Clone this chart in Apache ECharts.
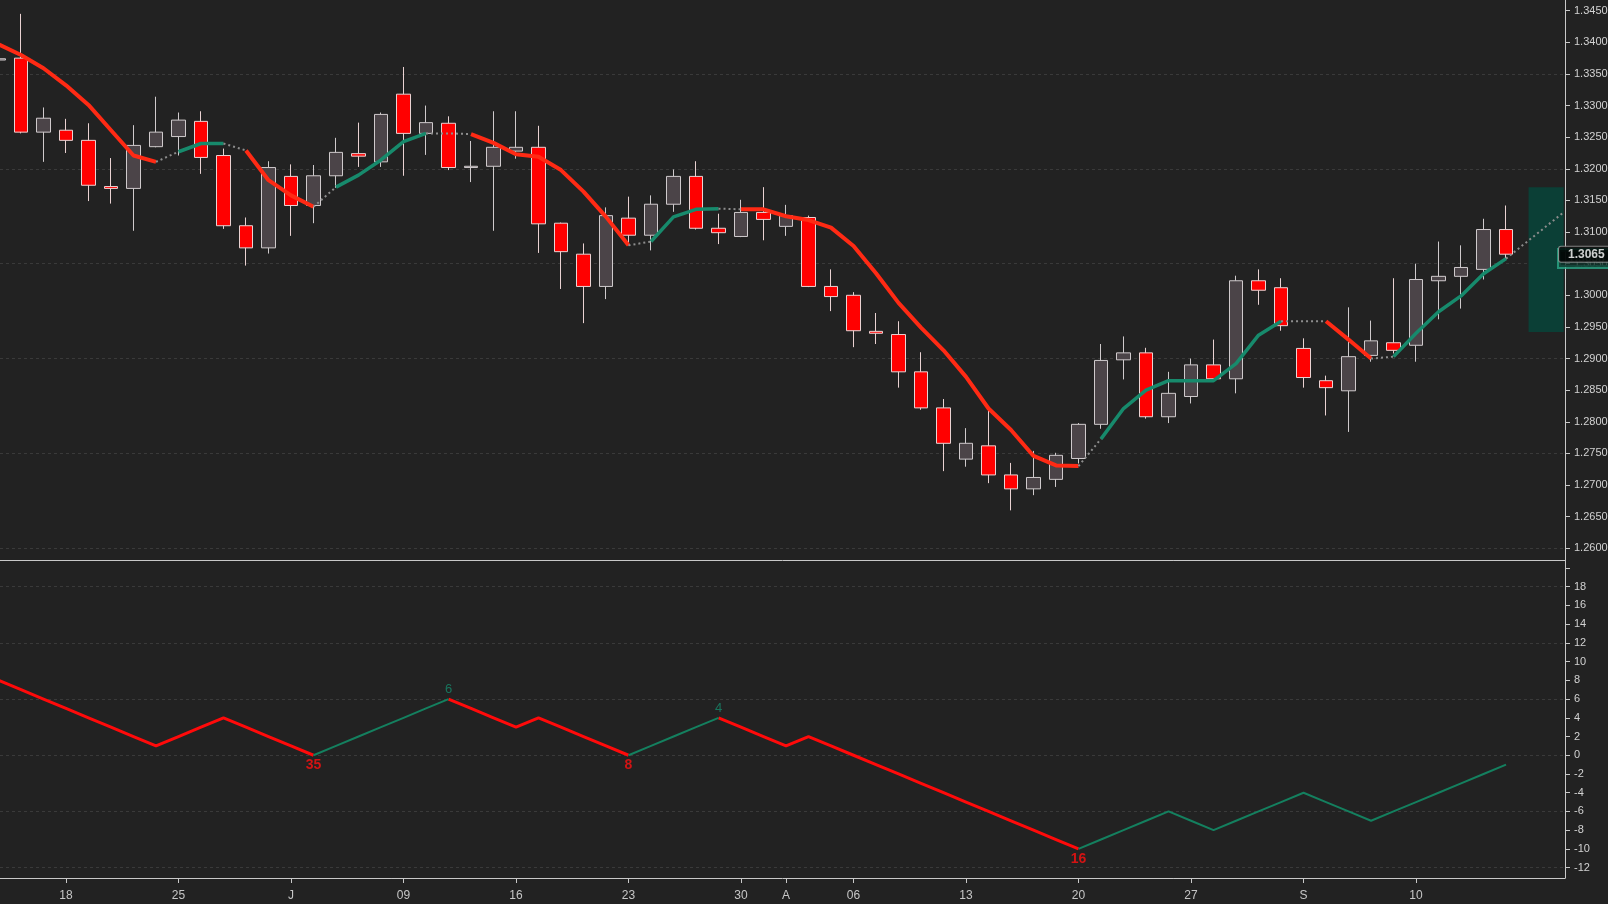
<!DOCTYPE html>
<html lang="en">
<head>
  <meta charset="UTF-8">
  <title>GBPUSD daily</title>
  <script src="https://cdn.jsdelivr.net/npm/echarts@6.0.0/dist/echarts.min.js"></script>
  <style>
    html, body { margin: 0; padding: 0; background: #222222; }
  </style>
</head>
<body>
  <div id="chart" style="width:1608px;height:904px;"></div>

  <script>
    // trading days, Jun 13 -> Sep 14 (index = position on the x axis)
    var dates = ['06-13','06-14','06-15','06-18','06-19','06-20','06-21','06-22','06-25','06-26','06-27','06-28','06-29',
      '07-02','07-03','07-04','07-05','07-06','07-09','07-10','07-11','07-12','07-13','07-16','07-17','07-18','07-19','07-20',
      '07-23','07-24','07-25','07-26','07-27','07-30','07-31','08-01','08-02','08-03','08-06','08-07','08-08','08-09','08-10',
      '08-13','08-14','08-15','08-16','08-17','08-20','08-21','08-22','08-23','08-24','08-27','08-28','08-29','08-30','08-31',
      '09-03','09-04','09-05','09-06','09-07','09-10','09-11','09-12','09-13','09-14'];

    var open  = [1.3372,1.3375,1.3258,1.3261,1.3245,1.3172,1.3169,1.3235,1.3251,1.3275,1.3221,1.3110,1.3075,
      1.3188,1.3142,1.3189,1.3224,1.3211,1.3318,1.3256,1.3272,1.3202,1.3204,1.3228,1.3234,1.3114,1.3065,1.3014,
      1.3122,1.3095,1.3144,1.3188,1.3106,1.3093,1.3131,1.3109,1.3123,1.3014,1.3000,1.2943,1.2938,1.2879,1.2822,
      1.2741,1.2762,1.2716,1.2694,1.2709,1.2742,1.2796,1.2898,1.2909,1.2808,1.2840,1.2890,1.2868,1.3023,1.3012,
      1.2916,1.2865,1.2849,1.2905,1.2925,1.2921,1.3023,1.3030,1.3041,1.3104];
    var high  = [1.3377,1.3445,1.3297,1.3279,1.3272,1.3217,1.3269,1.3314,1.3289,1.3291,1.3232,1.3123,1.3212,
      1.3207,1.3206,1.3249,1.3273,1.3289,1.3361,1.3300,1.3283,1.3244,1.3291,1.3291,1.3268,1.3115,1.3082,1.3139,
      1.3156,1.3158,1.3199,1.3212,1.3129,1.3151,1.3171,1.3143,1.3126,1.3041,1.3005,1.2972,1.2959,1.2910,1.2836,
      1.2790,1.2820,1.2735,1.2754,1.2751,1.2798,1.2923,1.2935,1.2917,1.2879,1.2900,1.2930,1.3031,1.3041,1.3027,
      1.2932,1.2873,1.2981,1.2960,1.3027,1.3050,1.3085,1.3079,1.3121,1.3142];
    var low   = [1.3369,1.3256,1.3211,1.3225,1.3149,1.3145,1.3102,1.3234,1.3221,1.3192,1.3105,1.3047,1.3066,
      1.3094,1.3114,1.3170,1.3203,1.3203,1.3189,1.3222,1.3198,1.3179,1.3102,1.3216,1.3067,1.3010,1.2956,1.2994,
      1.3079,1.3071,1.3132,1.3104,1.3081,1.3092,1.3087,1.3094,1.3013,1.2975,1.2918,1.2923,1.2854,1.2819,1.2722,
      1.2729,1.2703,1.2660,1.2684,1.2697,1.2734,1.2789,1.2867,1.2805,1.2798,1.2829,1.2866,1.2845,1.2985,1.2944,
      1.2854,1.2810,1.2784,1.2895,1.2908,1.2895,1.2962,1.2979,1.3025,1.3058];
    var close = [1.3374,1.3258,1.3280,1.3245,1.3174,1.3169,1.3237,1.3258,1.3277,1.3218,1.3110,1.3075,1.3202,
      1.3142,1.3189,1.3226,1.3220,1.3286,1.3256,1.3273,1.3202,1.3204,1.3234,1.3234,1.3113,1.3069,1.3014,1.3126,
      1.3095,1.3144,1.3188,1.3106,1.3099,1.3131,1.3120,1.3126,1.3014,1.2998,1.2944,1.2940,1.2879,1.2822,1.2766,
      1.2766,1.2716,1.2694,1.2712,1.2747,1.2796,1.2897,1.2909,1.2808,1.2845,1.2890,1.2868,1.3023,1.3008,1.2952,
      1.2870,1.2854,1.2903,1.2928,1.2913,1.3025,1.3030,1.3044,1.3104,1.3065];

    // trend line over the candles and its colour per segment (R red, T teal, G grey dotted)
    var trend = [1.3397,1.3380,1.3359,1.3332,1.3301,1.3261,1.3221,1.3211,1.3227,1.3240,1.3240,1.3229,1.3182,
      1.3158,1.3140,1.3171,1.3190,1.3214,1.3243,1.3256,1.3256,1.3255,1.3241,1.3223,1.3219,1.3198,1.3164,1.3124,
      1.3079,1.3085,1.3124,1.3136,1.3137,1.3136,1.3136,1.3125,1.3119,1.3107,1.3078,1.3035,1.2988,1.2949,1.2913,
      1.2871,1.2821,1.2787,1.2746,1.2731,1.2730,1.2773,1.2821,1.2850,1.2865,1.2865,1.2865,1.2892,1.2937,1.2959,
      1.2959,1.2959,1.2930,1.2900,1.2903,1.2940,1.2974,1.2999,1.3034,1.3058];
    var trendSeg = 'RRRRRRR' + 'G' + 'TT' + 'G' + 'RRR' + 'G' + 'TTTT' + 'GG' + 'RRRRRRR' + 'G' + 'TTT' + 'G' +
      'RRRRRRRRRRRRRRR' + 'G' + 'TTTTTTTT' + 'GG' + 'RR' + 'G' + 'TTTTT';
    var projX = [67, 69.55];
    var projY = [1.3058, 1.3131];
    var zoneX = [68, 69.56];
    var zoneY = [1.2942, 1.3171];

    // lower panel counter
    var osc = [8,7,6,5,4,3,2,1,2,3,4,3,2,1,0,1,2,3,4,5,6,5,4,3,4,3,2,1,0,1,2,3,4,3,2,1,2,1,0,-1,-2,-3,-4,-5,
      -6,-7,-8,-9,-10,-9,-8,-7,-6,-7,-8,-7,-6,-5,-4,-5,-6,-7,-6,-5,-4,-3,-2,-1];
    var oscSeg = 'RRRRRRRRRRRRRR' + 'TTTTTT' + 'RRRRRRRR' + 'TTTT' + 'RRRRRRRRRRRRRRRR' + 'TTTTTTTTTTTTTTTTTTT';
    var pivotIdx  = [14, 20, 28, 32, 48];
    var pivotText = ['35', '6', '8', '4', '16'];

    // axis ticks
    var dayTicks  = [3, 8, 13, 18, 23, 28, 33, 35, 38, 43, 48, 53, 58, 63];
    var dayLabels = ['18','25','J','09','16','23','30','A','06','13','20','27','S','10'];
    var priceTicks = [1.260,1.265,1.270,1.275,1.280,1.285,1.290,1.295,1.300,1.305,1.310,1.315,1.320,1.325,1.330,1.335,1.340,1.345];
    var priceGrid  = [1.260,1.275,1.290,1.305,1.320,1.335];
    var oscTicks   = [-12,-10,-8,-6,-4,-2,0,2,4,6,8,10,12,14,16,18,20];
    var oscLabels  = [-12,-10,-8,-6,-4,-2,0,2,4,6,8,10,12,14,16,18];
    var oscGrid    = [-12,-6,0,6,12,18];
    var lastPrice = 1.3065, lastTrend = 1.3058;

    var RED = '#ff2a14', TEAL = '#178a6c', GREY = '#8d8d8d';
    var AXIS = '#c9c9c9', FONT = 'Liberation Sans, Arial, sans-serif';

    // keep only the points that belong to segments of one kind, the rest become gaps
    function pick(vals, seg, kind) {
      return vals.map(function (v, i) {
        var on = seg[i] === kind || (i > 0 && seg[i - 1] === kind);
        return [i, on ? v : null];
      });
    }

    var candles = dates.map(function (d, i) { return [i, open[i], close[i], low[i], high[i]]; });

    var pivots = pivotIdx.map(function (idx, k) {
      var up = oscSeg[idx - 1] === 'T';
      return {
        value: [idx, osc[idx]],
        label: {
          formatter: pivotText[k],
          position: up ? 'top' : 'bottom',
          distance: 3,
          color: up ? TEAL : '#ff1010',
          fontWeight: up ? 'normal' : 'bold',
          fontSize: up ? 13 : 14
        }
      };
    });

    var xMin = 0.067, xMax = 69.62;

    // badges on the price axis: trend value underneath, last close on top
    var badges = [
      { value: [xMax, lastTrend], label: { formatter: lastTrend.toFixed(4), backgroundColor: '#0f332b',
          borderColor: '#2aa887', borderWidth: 2, color: '#5f8c80', padding: [3, 8, 2, 9] } },
      { value: [xMax, lastPrice], label: { formatter: lastPrice.toFixed(4), backgroundColor: '#000000',
          borderColor: '#9a9a9a', borderWidth: 1, borderRadius: 2, color: '#ffffff', padding: [2, 8, 1, 9] } }
    ];

    var chart = echarts.init(document.getElementById('chart'));
    chart.setOption({
      backgroundColor: '#222222',
      animation: false,
      textStyle: { fontFamily: FONT },
      grid: [
        { left: 0, right: 43, top: 0, height: 560, containLabel: false, outerBoundsMode: 'none' },
        { left: 0, right: 43, top: 560, height: 318, containLabel: false, outerBoundsMode: 'none' }
      ],
      xAxis: [
        { type: 'value', gridIndex: 0, min: xMin, max: xMax,
          axisLine: { show: true, onZero: false, lineStyle: { color: AXIS, width: 1 } },
          axisTick: { show: false }, axisLabel: { show: false }, splitLine: { show: false } },
        { type: 'value', gridIndex: 1, min: xMin, max: xMax,
          axisLine: { show: true, onZero: false, lineStyle: { color: AXIS, width: 1 } },
          axisTick: { show: true, length: 5, customValues: dayTicks, lineStyle: { color: AXIS } },
          axisLabel: { show: true, customValues: dayTicks, color: '#c6c6c6', fontSize: 12, margin: 12,
            formatter: function (v) { return dayLabels[dayTicks.indexOf(v)]; } },
          splitLine: { show: false } }
      ],
      yAxis: [
        { type: 'value', gridIndex: 0, position: 'right', min: 1.25815, max: 1.34669,
          axisLine: { show: true, lineStyle: { color: AXIS } },
          axisTick: { show: true, length: 5, customValues: priceTicks, lineStyle: { color: AXIS } },
          axisLabel: { customValues: priceTicks, color: '#d2d2d2', fontSize: 11, margin: 9,
            formatter: function (v) { return v.toFixed(5); } },
          splitLine: { show: false } },
        { type: 'value', gridIndex: 0, position: 'right', min: 1.25815, max: 1.34669,
          axisLine: { show: false }, axisLabel: { show: false },
          axisTick: { show: false, customValues: priceGrid },
          splitLine: { show: true, lineStyle: { color: '#3a3a3a', type: [3, 3] } } },
        { type: 'value', gridIndex: 1, position: 'right', min: -13.11, max: 20.855,
          axisLine: { show: true, lineStyle: { color: AXIS } },
          axisTick: { show: true, length: 5, customValues: oscTicks, lineStyle: { color: AXIS } },
          axisLabel: { customValues: oscLabels, color: '#d2d2d2', fontSize: 11, margin: 9 },
          splitLine: { show: false } },
        { type: 'value', gridIndex: 1, position: 'right', min: -13.11, max: 20.855,
          axisLine: { show: false }, axisLabel: { show: false },
          axisTick: { show: false, customValues: oscGrid },
          splitLine: { show: true, lineStyle: { color: '#3a3a3a', type: [3, 3] } } }
      ],
      series: [
        {
          name: 'price', type: 'candlestick', xAxisIndex: 0, yAxisIndex: 0,
          data: candles, encode: { x: 0, y: [1, 2, 3, 4] },
          barWidth: 14,
          itemStyle: { color: '#4b4448', color0: '#ff0000', borderColor: '#cfcacc', borderColor0: '#ead2d2', borderWidth: 1 },
          markArea: {
            silent: true,
            itemStyle: { color: '#0b3f36' },
            data: [[{ xAxis: zoneX[0], yAxis: zoneY[1] }, { xAxis: zoneX[1], yAxis: zoneY[0] }]]
          }
        },
        { name: 'trend down', type: 'line', xAxisIndex: 0, yAxisIndex: 0, data: pick(trend, trendSeg, 'R'),
          showSymbol: false, connectNulls: false, lineStyle: { color: RED, width: 4 }, z: 3 },
        { name: 'trend up', type: 'line', xAxisIndex: 0, yAxisIndex: 0, data: pick(trend, trendSeg, 'T'),
          showSymbol: false, connectNulls: false, lineStyle: { color: TEAL, width: 3.5 }, z: 3 },
        { name: 'trend flat', type: 'line', xAxisIndex: 0, yAxisIndex: 0, data: pick(trend, trendSeg, 'G'),
          showSymbol: false, connectNulls: false, lineStyle: { color: GREY, width: 2, type: [2, 3] }, z: 3 },
        { name: 'projection', type: 'line', xAxisIndex: 0, yAxisIndex: 0,
          data: projX.map(function (x, i) { return [x, projY[i]]; }),
          showSymbol: false, lineStyle: { color: GREY, width: 2, type: [2, 3] }, z: 3 },
        { name: 'badges', type: 'scatter', xAxisIndex: 0, yAxisIndex: 0, data: badges, symbolSize: 0,
          clip: false, silent: true, z: 10,
          label: { show: true, position: 'right', distance: -6, fontSize: 12, fontWeight: 'bold', fontFamily: FONT } },
        { name: 'count down', type: 'line', xAxisIndex: 1, yAxisIndex: 2, data: pick(osc, oscSeg, 'R'),
          showSymbol: false, connectNulls: false, lineStyle: { color: '#ff0a0a', width: 3 } },
        { name: 'count up', type: 'line', xAxisIndex: 1, yAxisIndex: 2, data: pick(osc, oscSeg, 'T'),
          showSymbol: false, connectNulls: false, lineStyle: { color: '#14805f', width: 2 } },
        { name: 'pivots', type: 'scatter', xAxisIndex: 1, yAxisIndex: 2, data: pivots,
          symbolSize: 0, label: { show: true, fontFamily: FONT } }
      ]
    });
  </script>
</body>
</html>
